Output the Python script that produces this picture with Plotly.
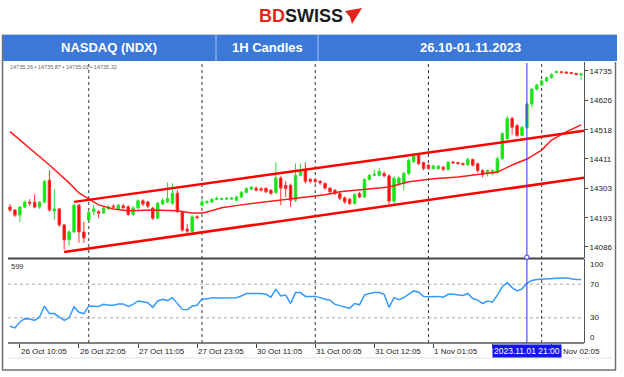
import plotly.graph_objects as go

W, H = 624, 377


def px(x):
    return x / W


def py(y):
    return 1 - y / H


# ---------------- data ----------------
opens = [14233, 14222, 14203, 14233, 14251, 14251, 14233, 14251, 14332, 14218,
         14226, 14167, 14112, 14141, 14240, 14141, 14185, 14216, 14216, 14211,
         14226, 14236, 14226, 14238, 14234, 14206, 14230, 14256, 14252, 14229,
         14192, 14244, 14252, 14247, 14284, 14216, 14152, 14142, 14197, 14240,
         14249, 14252, 14261, 14261, 14262, 14262, 14258, 14270, 14287, 14299,
         14302, 14300, 14302, 14295, 14287, 14340, 14313, 14313, 14258, 14350,
         14368, 14335, 14334, 14328, 14320, 14303, 14295, 14283, 14267, 14262,
         14246, 14283, 14270, 14335, 14350, 14350, 14357, 14348, 14255, 14320,
         14320, 14357, 14401, 14423, 14397, 14387, 14375, 14375, 14380, 14372,
         14399, 14397, 14394, 14389, 14408, 14393, 14368, 14356, 14356, 14360,
         14411, 14485, 14560, 14533, 14497, 14527, 14613, 14668, 14683, 14698,
         14710, 14729, 14732, 14731, 14729, 14726, 14720]
closes = [14222, 14203, 14233, 14251, 14247, 14233, 14251, 14328, 14222, 14226,
          14167, 14112, 14141, 14240, 14141, 14119, 14214, 14226, 14210, 14229,
          14233, 14233, 14240, 14230, 14206, 14230, 14256, 14244, 14236, 14192,
          14247, 14258, 14265, 14284, 14216, 14148, 14144, 14197, 14194, 14252,
          14253, 14261, 14265, 14264, 14265, 14266, 14270, 14287, 14301, 14306,
          14295, 14295, 14289, 14283, 14340, 14303, 14301, 14258, 14350, 14368,
          14328, 14328, 14327, 14322, 14303, 14289, 14283, 14265, 14252, 14246,
          14279, 14270, 14335, 14350, 14354, 14364, 14348, 14255, 14339, 14340,
          14357, 14405, 14421, 14393, 14375, 14375, 14384, 14384, 14372, 14398,
          14396, 14393, 14390, 14408, 14387, 14368, 14353, 14368, 14368, 14411,
          14503, 14560, 14527, 14497, 14527, 14613, 14668, 14683, 14698, 14710,
          14722, 14732, 14729, 14727, 14726, 14722, 14724]
highs = [14244, 14226, 14237, 14258, 14262, 14280, 14255, 14332, 14368, 14300,
         14230, 14170, 14148, 14244, 14244, 14178, 14222, 14240, 14222, 14233,
         14240, 14244, 14244, 14244, 14240, 14236, 14262, 14262, 14256, 14233,
         14251, 14266, 14324, 14321, 14295, 14218, 14170, 14203, 14203, 14262,
         14258, 14266, 14272, 14268, 14270, 14270, 14275, 14292, 14306, 14312,
         14310, 14306, 14306, 14299, 14398, 14346, 14328, 14320, 14394, 14394,
         14398, 14340, 14338, 14332, 14324, 14306, 14300, 14288, 14272, 14266,
         14284, 14288, 14340, 14356, 14372, 14376, 14364, 14353, 14346, 14346,
         14364, 14412, 14430, 14430, 14400, 14392, 14390, 14388, 14385, 14403,
         14403, 14400, 14397, 14416, 14412, 14397, 14372, 14372, 14372, 14420,
         14510, 14570, 14566, 14540, 14533, 14618, 14672, 14688, 14703, 14715,
         14727, 14737, 14735, 14733, 14731, 14728, 14728]
lows = [14215, 14196, 14178, 14229, 14236, 14229, 14226, 14247, 14215, 14185,
        14160, 14075, 14090, 14138, 14101, 14101, 14181, 14203, 14192, 14207,
        14222, 14229, 14222, 14226, 14200, 14200, 14226, 14236, 14229, 14185,
        14188, 14240, 14247, 14240, 14211, 14141, 14130, 14135, 14188, 14233,
        14244, 14247, 14258, 14258, 14259, 14259, 14255, 14266, 14284, 14295,
        14290, 14290, 14284, 14277, 14280, 14240, 14270, 14234, 14251, 14346,
        14320, 14320, 14320, 14315, 14298, 14280, 14276, 14258, 14245, 14240,
        14242, 14266, 14266, 14330, 14346, 14346, 14342, 14244, 14240, 14313,
        14295, 14350, 14395, 14387, 14368, 14370, 14370, 14371, 14366, 14368,
        14392, 14390, 14385, 14385, 14383, 14360, 14342, 14346, 14350, 14357,
        14405, 14478, 14500, 14490, 14493, 14520, 14600, 14662, 14680, 14694,
        14706, 14726, 14726, 14724, 14722, 14718, 14702]

rsi = [20, 18, 25, 29, 28.5, 27, 31, 44, 35, 35,
       31, 27, 30, 43, 36.5, 35, 44, 43.5, 43.5, 46,
       45, 45, 46.5, 46.5, 43.5, 46, 50, 49, 48, 42.5,
       50, 52, 50.5, 54, 47, 40, 39.5, 44, 45, 52.5,
       52.5, 54, 53.5, 53.5, 53.5, 53.5, 54, 56, 59, 59,
       59, 59, 58, 54.5, 64, 56, 57, 47, 60, 60,
       55.5, 55.5, 55.5, 54, 52, 51, 46, 44.5, 42.5, 41.3,
       47, 45.5, 57, 59, 60, 60, 58, 42.5, 54, 51.5,
       54, 58.5, 62, 60.5, 55.5, 55, 55.5, 55.5, 54.5, 58,
       58, 57, 56.5, 59, 53, 51, 47, 50, 48.5, 57,
       67, 72, 66, 62, 64.5, 71, 74.5, 75.5, 76, 76.5,
       77, 77.5, 77.5, 77.5, 76.5, 75.5, 75.5]

ma_bars = [0, 5, 8, 12, 14, 16, 18, 21, 24, 29, 34, 37, 39, 40, 43, 47, 52,
           56, 60, 64, 67, 73, 77, 81, 86, 91, 97, 99, 102, 105, 108, 110, 113, 116]
ma_vals = [14511, 14436, 14388, 14322, 14285, 14263, 14241, 14226, 14219, 14222,
           14219, 14211, 14211, 14215, 14230, 14241, 14252, 14263, 14270, 14278,
           14289, 14300, 14307, 14326, 14337, 14344, 14359, 14362, 14388, 14410,
           14443, 14480, 14510, 14536]

upper_bars = [13, 116.6]
upper_vals = [14252, 14514]
lower_bars = [11, 116.6]
lower_vals = [14067, 14341]

price_ticks = [14086, 14193, 14303, 14411, 14518, 14626, 14735]
price_tick_text = [str(v) for v in price_ticks]
time_tick_bars = [2, 14, 26, 38, 50, 62, 74, 86, 98, 110]
# labels drawn (the 1 Nov 13:05 one is hidden under the cursor label in the reference,
# and "2 Nov 02:05" shows only its tail)
label_bars = [2, 14, 26, 38, 50, 62, 74, 86]
label_texts = ["26 Oct 10:05", "26 Oct 22:05", "27 Oct 11:05", "27 Oct 23:05",
               "30 Oct 11:05", "31 Oct 00:05", "31 Oct 12:05", "1 Nov 01:05"]
tail_label = "Nov 02:05"
day_sep_bars = [16, 39, 62, 85, 108]
cursor_bar = 105
cursor_label = "2023.11.01 21:00"
rsi_levels = [30, 70]
rsi_labels = ["100", "70", "30", "0"]
rsi_label_pos = [93, 70, 30, 6]

header_texts = ["NASDAQ (NDX)", "1H Candles", "26.10-01.11.2023"]
header_centers = [109, 267, 470]

bars = list(range(len(opens)))
FONT = "Liberation Sans, Arial, sans-serif"

fig = go.Figure()
fig.add_trace(go.Candlestick(
    x=bars, open=opens, high=highs, low=lows, close=closes,
    increasing=dict(line=dict(color="#2ee02e", width=1), fillcolor="#00ee00"),
    decreasing=dict(line=dict(color="#ff3030", width=1), fillcolor="#ff0000"),
    xaxis="x", yaxis="y", hoverinfo="skip", showlegend=False))
fig.add_trace(go.Scatter(x=ma_bars, y=ma_vals, mode="lines",
                         line=dict(color="#ff1a1a", width=1.5),
                         xaxis="x", yaxis="y", showlegend=False, hoverinfo="skip"))
fig.add_trace(go.Scatter(x=upper_bars, y=upper_vals, mode="lines",
                         line=dict(color="#ff0000", width=2.5),
                         xaxis="x", yaxis="y", showlegend=False, hoverinfo="skip"))
fig.add_trace(go.Scatter(x=lower_bars, y=lower_vals, mode="lines",
                         line=dict(color="#ff0000", width=2.5),
                         xaxis="x", yaxis="y", showlegend=False, hoverinfo="skip"))
fig.add_trace(go.Scatter(x=bars, y=rsi, mode="lines",
                         line=dict(color="#3399ff", width=1.5),
                         xaxis="x", yaxis="y2", showlegend=False, hoverinfo="skip"))

shapes = []
# header bar
shapes.append(dict(type="rect", xref="paper", yref="paper", x0=px(2), x1=px(617),
                   y0=py(61), y1=py(35), fillcolor="#3c78d8", line=dict(width=0), layer="below"))
for xd in [216, 318]:
    shapes.append(dict(type="line", xref="paper", yref="paper", x0=px(xd), x1=px(xd),
                       y0=py(61), y1=py(35), line=dict(color="#a9c2ec", width=1)))
shapes.append(dict(type="line", xref="paper", yref="paper", x0=px(2), x1=px(617),
                   y0=py(34.5), y1=py(34.5), line=dict(color="#c8c8c8", width=1)))
# logo mark
shapes.append(dict(type="path", xref="paper", yref="paper",
                   path=(f"M {px(345)},{py(11)} L {px(362)},{py(8)} L {px(352)},{py(24)} "
                         f"L {px(350)},{py(17)} Z"),
                   fillcolor="#e3241b", line=dict(width=0)))
# outer frame
shapes.append(dict(type="line", xref="paper", yref="paper", x0=px(2.5), x1=px(2.5),
                   y0=py(370), y1=py(35), line=dict(color="#6f6f6f", width=1.5)))
shapes.append(dict(type="line", xref="paper", yref="paper", x0=px(2), x1=px(616),
                   y0=py(370), y1=py(370), line=dict(color="#6f6f6f", width=1.5)))
shapes.append(dict(type="line", xref="paper", yref="paper", x0=px(615.5), x1=px(615.5),
                   y0=py(370), y1=py(62), line=dict(color="#6f6f6f", width=1.5)))
shapes.append(dict(type="line", xref="paper", yref="paper", x0=px(8), x1=px(612),
                   y0=py(358), y1=py(358), line=dict(color="#e0e0e0", width=1)))
# panel separators
shapes.append(dict(type="line", xref="paper", yref="paper", x0=px(8), x1=px(584),
                   y0=py(258.5), y1=py(258.5), line=dict(color="#444444", width=2)))
shapes.append(dict(type="line", xref="paper", yref="paper", x0=px(8), x1=px(584),
                   y0=py(343), y1=py(343), line=dict(color="#555555", width=1.5)))
# day separators
for b in day_sep_bars:
    shapes.append(dict(type="line", xref="x", yref="paper", x0=b, x1=b,
                       y0=py(343), y1=py(62), line=dict(color="#333333", width=1, dash="dot"),
                       layer="below"))
# RSI levels
for lv in rsi_levels:
    shapes.append(dict(type="line", xref="paper", yref="y2", x0=px(8), x1=px(584),
                       y0=lv, y1=lv, line=dict(color="#aaaaaa", width=1, dash="dot"),
                       layer="below"))
# cursor line
shapes.append(dict(type="line", xref="x", yref="paper", x0=cursor_bar, x1=cursor_bar,
                   y0=py(343), y1=py(63), line=dict(color="#3030ff", width=1)))
shapes.append(dict(type="circle", xref="x", yref="paper", x0=cursor_bar - 0.45,
                   x1=cursor_bar + 0.45, y0=py(259.5), y1=py(255), line=dict(color="#3030ff", width=1),
                   fillcolor="white"))

annotations = []
annotations.append(dict(xref="paper", yref="paper", x=px(301), y=py(16.5), xanchor="center",
                        yanchor="middle", showarrow=False,
                        text="<b><span style='color:#e3241b'>BD</span>SWISS</b>",
                        font=dict(family=FONT, size=18, color="#1a1a1a")))
for t, c in zip(header_texts, header_centers):
    annotations.append(dict(xref="paper", yref="paper", x=px(c), y=py(48), xanchor="center",
                            yanchor="middle", showarrow=False, text=f"<b>{t}</b>",
                            font=dict(family=FONT, size=13, color="white")))
annotations.append(dict(xref="paper", yref="paper", x=px(8), y=py(66.5), xanchor="left",
                        yanchor="middle", showarrow=False,
                        text="14735.26 ▪ 14735.87 ▪ 14735.01 ▪ 14735.32",
                        font=dict(family=FONT, size=5.5, color="#666666")))
annotations.append(dict(xref="paper", yref="paper", x=px(9), y=py(266), xanchor="left",
                        yanchor="middle", showarrow=False, text="599",
                        font=dict(family=FONT, size=7.5, color="#333333")))
for lab, pos in zip(rsi_labels, rsi_label_pos):
    annotations.append(dict(xref="paper", yref="y2", x=px(588), y=pos, xanchor="left",
                            yanchor="middle", showarrow=False, text=lab,
                            font=dict(family=FONT, size=8, color="#222222")))
for b, lab in zip(label_bars, label_texts):
    annotations.append(dict(xref="x", yref="paper", x=b, y=py(351), xanchor="left",
                            yanchor="middle", showarrow=False, text=lab, xshift=-1,
                            font=dict(family=FONT, size=8, color="#222222")))
annotations.append(dict(xref="paper", yref="paper", x=px(561), y=py(351), xanchor="left",
                        yanchor="middle", showarrow=False, text=tail_label,
                        font=dict(family=FONT, size=8, color="#222222")))
annotations.append(dict(xref="x", yref="paper", x=cursor_bar, y=py(351), xanchor="center",
                        yanchor="middle", showarrow=False, text=cursor_label,
                        bgcolor="#1414ee", borderpad=1,
                        font=dict(family=FONT, size=8.5, color="white")))

fig.update_layout(
    width=W, height=H, margin=dict(l=0, r=0, t=0, b=0),
    paper_bgcolor="white", plot_bgcolor="white", showlegend=False,
    xaxis=dict(domain=[px(8), px(584)], range=[-0.41, 116.6], anchor="y2",
               showgrid=False, zeroline=False, showline=False,
               tickmode="array", tickvals=time_tick_bars, ticks="outside", ticklen=4,
               tickcolor="#444444", showticklabels=False,
               rangeslider=dict(visible=False)),
    yaxis=dict(domain=[py(258), py(62)], range=[14045, 14768], side="right", anchor="x",
               tickmode="array", tickvals=price_ticks, ticktext=price_tick_text,
               ticks="outside", ticklen=3,
               tickcolor="#444444", tickfont=dict(family=FONT, size=8, color="#222222"),
               showgrid=False, zeroline=False, showline=True, linecolor="#555555", linewidth=1),
    yaxis2=dict(domain=[py(343), py(259)], range=[0, 100], side="right", anchor="x",
                showticklabels=False, ticks="", showgrid=False, zeroline=False,
                showline=True, linecolor="#555555", linewidth=1),
    shapes=shapes, annotations=annotations,
)

fig.write_html("out.html")
